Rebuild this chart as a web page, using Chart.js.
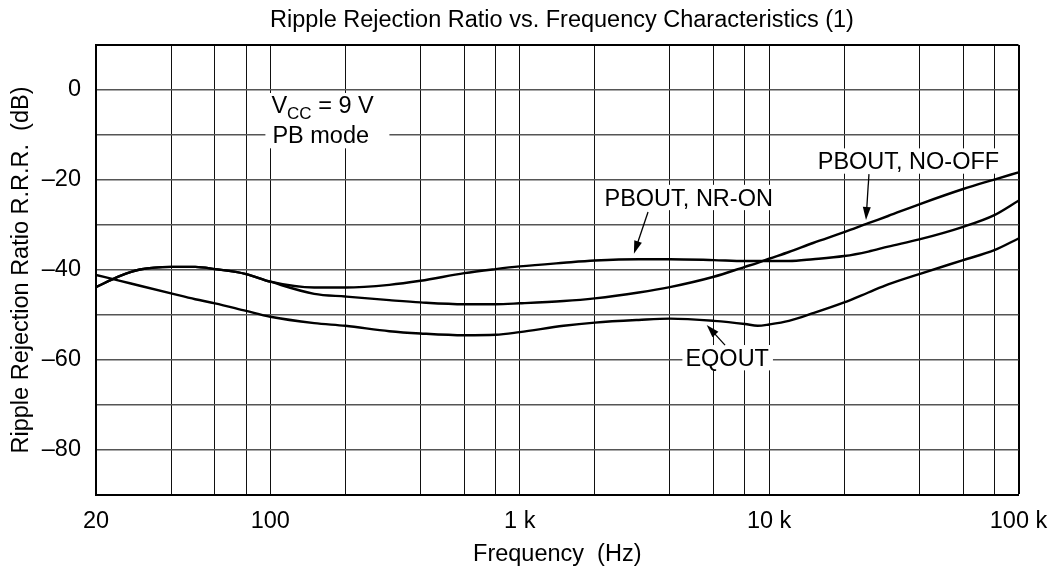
<!DOCTYPE html>
<html>
<head>
<meta charset="utf-8">
<title>Ripple Rejection Ratio vs. Frequency Characteristics (1)</title>
<script src="https://cdn.jsdelivr.net/npm/chart.js@4.4.0/dist/chart.umd.min.js"></script>
<style>
  html, body { margin: 0; padding: 0; background: #fff; }
  #chartBox { position: relative; width: 1062px; height: 572px; }
</style>
</head>
<body>
<div id="chartBox"><canvas id="rrrChart"></canvas></div>
<script>
// DATA (Hz / dB)
const frequencies = [20, 25, 30, 40, 50, 60, 80, 100, 150, 200, 300, 400, 600, 800, 1000, 1500,
  2000, 3000, 4000, 6000, 8000, 9000, 10000, 12000, 15000, 20000, 25000, 30000, 40000, 60000, 80000, 100000];
const pboutNrOn = [-43.8, -41.3, -39.9, -39.3, -39.3, -39.8, -40.9, -42.6, -43.9, -43.9, -43.3, -42.4, -40.7, -39.8, -39.2, -38.4,
  -37.9, -37.6, -37.6, -37.8, -38.0, -38.0, -38.0, -38.0, -37.6, -36.9, -35.9, -34.8, -33.2, -30.4, -27.8, -24.6];
const pboutNoOff = [-43.8, -41.3, -39.9, -39.3, -39.3, -39.8, -40.9, -42.6, -45.3, -45.9, -46.7, -47.2, -47.6, -47.6, -47.4, -46.9,
  -46.3, -45.0, -43.8, -41.5, -39.3, -38.4, -37.5, -36.0, -34.0, -31.6, -29.6, -28.0, -25.4, -22.0, -19.9, -18.3];
const eqOut = [-41.1, -42.4, -43.5, -45.2, -46.5, -47.4, -49.1, -50.4, -51.8, -52.4, -53.6, -54.1, -54.5, -54.4, -53.8, -52.4,
  -51.7, -51.1, -50.8, -51.3, -52.0, -52.4, -52.1, -51.3, -49.6, -47.2, -45.0, -43.2, -40.9, -37.8, -35.6, -33.0];

// AXES
const gridFrequencies = [20, 40, 60, 80, 100, 200, 400, 600, 800, 1000, 2000, 4000, 6000, 8000,
  10000, 20000, 40000, 60000, 80000, 100000];
const freqTickLabels = { 20: "20", 100: "100", 1000: "1 k", 10000: "10 k", 100000: "100 k" };
const dbTickLabels = { 0: "0", "-20": "\u201320", "-40": "\u201340", "-60": "\u201360", "-80": "\u201380" };

// LABELS (text centre freq, baseline dB) and arrows (from -> tip)
const curveLabels = [
  { text: "PBOUT, NR-ON", freq: 4760, db: -25.7 },
  { text: "PBOUT, NO-OFF", freq: 36200, db: -17.6 },
  { text: "EQOUT", freq: 6790, db: -61.3 },
];
const labelArrows = [
  { from: [3270, -27.1], to: [2870, -36.4] },
  { from: [25140, -18.7], to: [24460, -28.9] },
  { from: [6656, -56.7], to: [5620, -52.2] },
];
const conditionAt = { freq: 101, db: -5.0, nextDb: -11.85 };

const FONT = "'Liberation Sans', Arial, Helvetica, sans-serif";
const FONT_SIZE = 23.5;
const CAP = FONT_SIZE * 0.716;

Chart.defaults.font.family = FONT;
Chart.defaults.font.size = FONT_SIZE;
Chart.defaults.color = "#000";

function toPoints(values) {
  return frequencies.map((f, i) => ({ x: f, y: values[i] }));
}

function whiteBox(ctx, left, top, right, bottom) {
  ctx.fillStyle = "#fff";
  ctx.fillRect(left, top, right - left, bottom - top);
}

function drawArrow(ctx, x1, y1, x2, y2) {
  const ang = Math.atan2(y2 - y1, x2 - x1);
  const headLen = 13;
  const headHalf = 4;
  ctx.beginPath();
  ctx.moveTo(x1, y1);
  ctx.lineTo(x2 - Math.cos(ang) * headLen * 0.8, y2 - Math.sin(ang) * headLen * 0.8);
  ctx.stroke();
  ctx.beginPath();
  ctx.moveTo(x2, y2);
  ctx.lineTo(x2 - headLen * Math.cos(ang) + headHalf * Math.sin(ang), y2 - headLen * Math.sin(ang) - headHalf * Math.cos(ang));
  ctx.lineTo(x2 - headLen * Math.cos(ang) - headHalf * Math.sin(ang), y2 - headLen * Math.sin(ang) + headHalf * Math.cos(ang));
  ctx.closePath();
  ctx.fill();
}

// text on the plot: title, curve names, conditions, arrows
const labelsPlugin = {
  id: "curveLabels",
  beforeDatasetsDraw(chart) {
    const { ctx } = chart;
    const x = chart.scales.x;
    const y = chart.scales.y;
    ctx.save();
    ctx.font = FONT_SIZE + "px " + FONT;
    ctx.textBaseline = "alphabetic";

    // title
    ctx.fillStyle = "#000";
    ctx.textAlign = "center";
    ctx.fillText("Ripple Rejection Ratio vs. Frequency Characteristics (1)", 562, 27);

    // curve names
    curveLabels.forEach((lab) => {
      const cx = x.getPixelForValue(lab.freq);
      const by = y.getPixelForValue(lab.db);
      const w = ctx.measureText(lab.text).width;
      whiteBox(ctx, cx - w / 2 - 3, by - CAP - 4, cx + w / 2 + 4, by + 4.5);
      ctx.fillStyle = "#000";
      ctx.fillText(lab.text, cx, by);
    });

    // conditions
    const lx = x.getPixelForValue(conditionAt.freq);
    const b1 = y.getPixelForValue(conditionAt.db);
    const b2 = y.getPixelForValue(conditionAt.nextDb);
    whiteBox(ctx, lx - 6, b1 - CAP - 2.7, lx + 118, b2 + 5);
    ctx.fillStyle = "#000";
    ctx.textAlign = "left";
    ctx.fillText("V", lx, b1);
    let cx = lx + ctx.measureText("V").width;
    ctx.font = "17px " + FONT;
    ctx.fillText("CC", cx, b1 + 6);
    cx += ctx.measureText("CC").width;
    ctx.font = FONT_SIZE + "px " + FONT;
    ctx.fillText(" = 9 V", cx, b1);
    ctx.fillText("PB mode", lx + 1, b2);

    // arrows
    ctx.strokeStyle = "#000";
    ctx.fillStyle = "#000";
    ctx.lineWidth = 1.3;
    labelArrows.forEach((a) => {
      drawArrow(ctx,
        x.getPixelForValue(a.from[0]), y.getPixelForValue(a.from[1]),
        x.getPixelForValue(a.to[0]), y.getPixelForValue(a.to[1]));
    });
    ctx.restore();
  },
};

//CHART
const lineStyle = {
  borderColor: "#000",
  borderWidth: 2.4,
  pointRadius: 0,
  fill: false,
  cubicInterpolationMode: "monotone",
};

const chart = new Chart(document.querySelector("#rrrChart"), {
  type: "line",
  data: {
    datasets: [
      { label: "PBOUT, NR-ON", data: toPoints(pboutNrOn), ...lineStyle },
      { label: "PBOUT, NO-OFF", data: toPoints(pboutNoOff), ...lineStyle },
      { label: "EQOUT", data: toPoints(eqOut), ...lineStyle },
    ],
  },
  options: {
    responsive: true,
    maintainAspectRatio: false,
    animation: false,
    layout: { padding: { top: 45, right: 43.5, bottom: 0, left: 0 } },
    plugins: {
      legend: { display: false },
      tooltip: { enabled: false },
      title: { display: false },
    },
    scales: {
      x: {
        type: "logarithmic",
        min: 20,
        max: 100000,
        afterBuildTicks: (scale) => {
          scale.ticks = gridFrequencies.map((v) => ({ value: v }));
        },
        afterFit: (scale) => {
          scale.height = 77;
          scale.paddingLeft = 0;
          scale.paddingRight = 0;
        },
        ticks: {
          autoSkip: false,
          maxRotation: 0,
          padding: 12,
          callback: (v) => freqTickLabels[v] || "",
        },
        grid: {
          drawTicks: false,
          color: (c) => (c.tick && c.tick.value === 100000 ? "#000" : "#111"),
          lineWidth: (c) => (c.tick && c.tick.value === 100000 ? 2 : 1),
        },
        border: { color: "#000", width: 2 },
        title: { display: true, text: "Frequency  (Hz)", padding: { top: 0, bottom: 3 } },
      },
      y: {
        min: -90,
        max: 10,
        afterFit: (scale) => {
          scale.width = 96;
          scale.paddingTop = 0;
          scale.paddingBottom = 0;
        },
        ticks: {
          stepSize: 10,
          padding: 15,
          callback: (v) => dbTickLabels[v] || "",
        },
        grid: {
          drawTicks: false,
          color: (c) => (c.tick && c.tick.value === 10 ? "#000" : "#555"),
          lineWidth: (c) => (c.tick && c.tick.value === 10 ? 2 : 1.4),
        },
        border: { color: "#000", width: 2 },
        title: { display: true, text: "Ripple Rejection Ratio R.R.R.  (dB)", padding: { top: 7, bottom: 0 } },
      },
    },
  },
  plugins: [labelsPlugin],
});
</script>
</body>
</html>
